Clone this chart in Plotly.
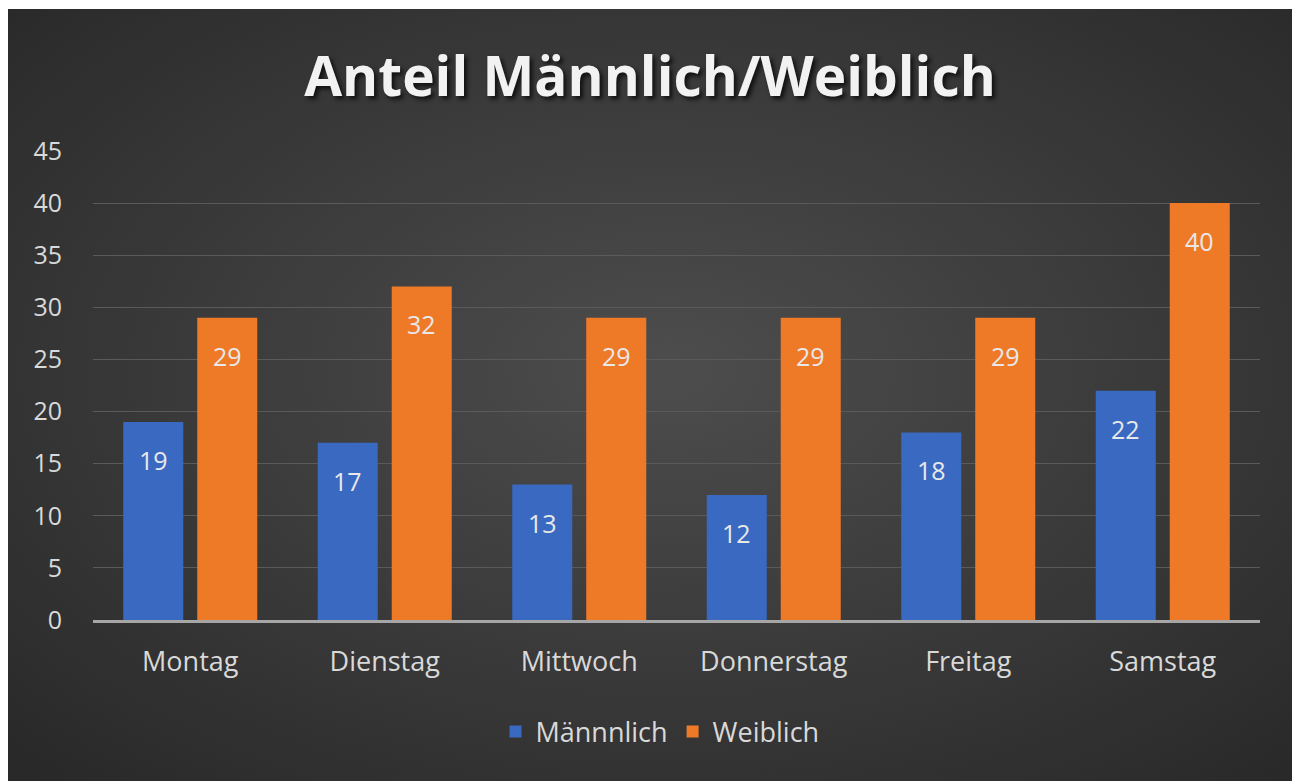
import plotly.graph_objects as go
import urllib.parse

days = ["Montag", "Dienstag", "Mittwoch", "Donnerstag", "Freitag", "Samstag"]
maennlich = [19, 17, 13, 12, 18, 22]
weiblich = [29, 32, 29, 29, 29, 40]
y_ticks = [0, 5, 10, 15, 20, 25, 30, 35, 40, 45]

FONT = "Open Sans"
TXT = "#d9d9d9"
BLUE = "#3a69c2"
ORANGE = "#ee7a28"

fig = go.Figure()
fig.add_trace(go.Bar(name="Männnlich", x=days, y=maennlich, marker=dict(color=BLUE, line=dict(width=0))))
fig.add_trace(go.Bar(name="Weiblich", x=days, y=weiblich, marker=dict(color=ORANGE, line=dict(width=0))))

annotations = []
for trace_idx, vals in enumerate((maennlich, weiblich)):
    for i, v in enumerate(vals):
        annotations.append(dict(
            x=i + (-0.19 if trace_idx == 0 else 0.19), y=v, xref="x", yref="y",
            text=str(v), showarrow=False, yshift=-38,
            font=dict(family=FONT, size=25, color="#e8e8e8")))

svg = ('<svg xmlns="http://www.w3.org/2000/svg" width="1300" height="781" preserveAspectRatio="none" viewBox="0 0 1300 781">'
       '<defs><radialGradient id="g" cx="50%" cy="45%" r="75%">'
       '<stop offset="0%" stop-color="#4d4d4d"/><stop offset="100%" stop-color="#262626"/>'
       '</radialGradient></defs><rect width="1300" height="781" fill="url(#g)"/></svg>')
src = "data:image/svg+xml;charset=utf-8," + urllib.parse.quote(svg)

# page is shown with an 8px body offset; figure coords = page coords - 8
OFF = 8
W, H = 1300, 781
L = 93 - OFF
T = 151 - OFF
plot_bottom = 620 - OFF
plot_right = 1260 - OFF
R = W - plot_right
B = H - plot_bottom
pw, ph = W - L - R, H - T - B

def px_to_paper_y(py):
    return (plot_bottom - py) / ph

fig.add_layout_image(dict(
    source=src, xref="paper", yref="paper",
    x=(7 - OFF - L) / pw, y=px_to_paper_y(9 - OFF),
    sizex=(W + 20) / pw, sizey=(H + 20) / ph,
    xanchor="left", yanchor="top", sizing="stretch", layer="below"))

fig.update_layout(
    width=W, height=H,
    margin=dict(l=L, r=R, t=T, b=B),
    paper_bgcolor="white", plot_bgcolor="rgba(0,0,0,0)",
    barmode="group", bargap=0.239, bargroupgap=0.189,
    title=dict(text="<b>Anteil Männlich/Weiblich</b>", x=(650 - OFF) / W, xref="container", xanchor="center",
               y=(H - (77 - OFF)) / H, yanchor="middle",
               font=dict(family=FONT, size=55, color="#f2f2f2", shadow="3px 3px 4px #111")),
    font=dict(family=FONT, color=TXT),
    showlegend=True,
    legend=dict(orientation="h", x=(660 - OFF - L) / pw, xanchor="center",
                y=px_to_paper_y(732 - OFF), yanchor="middle",
                font=dict(family=FONT, size=27, color=TXT), itemwidth=30,
                bgcolor="rgba(0,0,0,0)", traceorder="normal"),
    annotations=annotations,
    xaxis=dict(showgrid=False, showline=True, linecolor="#a6a6a6", linewidth=3,
               ticks="", tickfont=dict(family=FONT, size=27, color=TXT), ticklabelstandoff=16),
    yaxis=dict(range=[0, 45], tickvals=y_ticks, showgrid=True, gridcolor="#5a5a5a", gridwidth=1,
               zeroline=False, showline=False, ticks="",
               tickfont=dict(family=FONT, size=25, color=TXT), ticklabelstandoff=30),
)

fig.write_html("out.html")
